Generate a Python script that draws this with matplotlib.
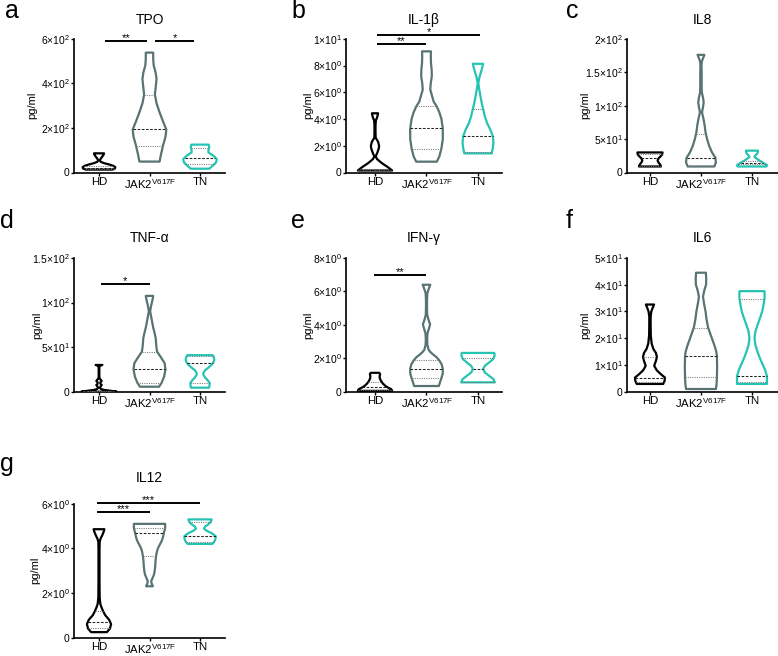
"""
Sitokin duzeyleri: HD / JAK2 V617F / TN gruplari icin violin grafikleri (a-g).
Cikti: out.png
"""

import numpy as np
import matplotlib
matplotlib.use("Agg")
import matplotlib.pyplot as plt

plt.rcParams["font.family"] = ["Liberation Sans", "DejaVu Sans"]
plt.rcParams["mathtext.fontset"] = "custom"
plt.rcParams["mathtext.rm"] = "Liberation Sans"
plt.rcParams["mathtext.it"] = "Liberation Sans:italic"
plt.rcParams["mathtext.bf"] = "Liberation Sans:bold"

GROUPS = ["HD", r"JAK2$^{\mathregular{V617F}}$", "TN"]
COLORS = ["#000000", "#587373", "#25c4b2"]

# --- violin profilleri: y degerleri, goreli genislik, ceyrekler (Q1, medyan, Q3) ---
# a) TPO
TPO_HD_Y = [13, 18, 24, 30, 36, 42, 48, 54, 62, 70, 78, 86]
TPO_HD_W = [0.8, 0.95, 0.97, 0.85, 0.6, 0.3, 0.1, 0.05, 0.1, 0.18, 0.26, 0.3]
TPO_HD_Q = [15, 20, 27]
TPO_JAK_Y = [49, 80, 120, 160, 193, 230, 270, 310, 350, 390, 420, 450, 480, 510, 538]
TPO_JAK_W = [0.6, 0.68, 0.8, 0.95, 1.0, 0.8, 0.6, 0.42, 0.32, 0.38, 0.42, 0.36, 0.25, 0.22, 0.22]
TPO_JAK_Q = [117, 193, 350]
TPO_TN_Y = [17, 30, 45, 60, 75, 90, 100, 112, 125]
TPO_TN_W = [0.55, 0.75, 0.95, 1.0, 0.8, 0.5, 0.5, 0.55, 0.52]
TPO_TN_Q = [40, 67, 112]

# b) IL-1b
IL1B_HD_Y = [0.15, 0.4, 0.7, 1.0, 1.2, 1.5, 1.8, 2.0, 2.3, 2.6, 3.0, 3.5, 3.9, 4.1, 4.43]
IL1B_HD_W = [1.0, 0.75, 0.4, 0.12, 0.04, 0.14, 0.22, 0.24, 0.18, 0.04, 0.03, 0.03, 0.05, 0.12, 0.18]
IL1B_HD_Q = [0.16, 0.2, 0.25]
IL1B_JAK_Y = [0.81, 1.2, 1.8, 2.5, 3.3, 4.0, 4.5, 4.93, 5.3, 5.7, 6.2, 6.7, 7.2, 7.7, 8.2, 8.7, 9.06]
IL1B_JAK_W = [0.6, 0.75, 0.87, 0.95, 0.95, 0.87, 0.75, 0.6, 0.42, 0.33, 0.22, 0.25, 0.31, 0.3, 0.26, 0.25, 0.26]
IL1B_JAK_Q = [1.75, 3.3, 4.95]
IL1B_TN_Y = [1.43, 1.8, 2.2, 2.7, 3.2, 3.7, 4.2, 4.75, 5.3, 5.8, 6.3, 6.7, 7.1, 7.5, 7.8, 8.13]
IL1B_TN_W = [0.8, 0.86, 0.9, 0.87, 0.72, 0.53, 0.4, 0.3, 0.2, 0.13, 0.06, 0.02, 0.08, 0.17, 0.24, 0.3]
IL1B_TN_Q = [1.53, 2.76, 4.75]

# c) IL8
IL8_HD_Y = [9, 12, 15, 18, 21, 24, 27, 30]
IL8_HD_W = [0.65, 0.6, 0.5, 0.45, 0.5, 0.62, 0.72, 0.74]
IL8_HD_Q = [10, 22, 27]
IL8_JAK_Y = [9, 15, 22, 30, 40, 50, 60, 70, 80, 90, 98, 105, 112, 120, 130, 140, 150, 160, 166, 171, 176]
IL8_JAK_W = [0.78, 0.88, 0.85, 0.65, 0.48, 0.36, 0.27, 0.22, 0.15, 0.06, 0.12, 0.16, 0.12, 0.05,
             0.04, 0.04, 0.04, 0.03, 0.05, 0.12, 0.2]
IL8_JAK_Q = [10, 22, 57]
IL8_TN_Y = [9, 11, 14, 17, 20, 23, 25, 28, 31, 32.7]
IL8_TN_W = [0.85, 0.88, 0.7, 0.5, 0.32, 0.15, 0.18, 0.3, 0.35, 0.35]
IL8_TN_Q = [12, 14.9, 17]

# d) TNF-a
TNF_HD_Y = [0, 1, 2, 3, 4.5, 6, 7.5, 9, 10.5, 12, 13.5, 15, 18, 22, 26, 29, 30]
TNF_HD_W = [1.05, 0.7, 0.3, 0.12, 0.05, 0.1, 0.16, 0.08, 0.08, 0.16, 0.1, 0.03, 0.02, 0.02, 0.02, 0.03, 0.2]
TNF_HD_Q = [0.3, 0.6, 1.0]
TNF_JAK_Y = [5.6, 10, 17, 25, 32, 38, 45, 52, 60, 66, 72, 78, 84, 90, 95, 100, 104, 107.5]
TNF_JAK_W = [0.57, 0.72, 0.87, 0.95, 0.9, 0.7, 0.45, 0.4, 0.37, 0.3, 0.22, 0.16, 0.1, 0.04, 0.08, 0.14, 0.19, 0.22]
TNF_JAK_Q = [10, 25, 44.8]
TNF_TN_Y = [4.5, 7, 10, 13, 16, 19, 21, 24, 27, 30, 33, 36, 39, 41]
TNF_TN_W = [0.53, 0.57, 0.57, 0.45, 0.3, 0.2, 0.2, 0.3, 0.5, 0.68, 0.8, 0.85, 0.82, 0.75]
TNF_TN_Q = [9.5, 32.5, 40]

# e) IFN-g
IFN_HD_Y = [0.05, 0.15, 0.25, 0.35, 0.5, 0.65, 0.8, 0.95, 1.05, 1.13]
IFN_HD_W = [1.0, 0.95, 0.75, 0.6, 0.45, 0.35, 0.28, 0.27, 0.3, 0.25]
IFN_HD_Q = [0.1, 0.26, 0.6]
IFN_JAK_Y = [0.34, 0.6, 0.81, 1.1, 1.37, 1.65, 1.88, 2.05, 2.2, 2.35, 2.5, 2.8, 3.2, 3.5, 3.8, 4.03,
             4.3, 4.6, 5.0, 5.5, 5.9, 6.15, 6.4]
IFN_JAK_W = [0.72, 0.8, 0.87, 0.95, 0.95, 0.88, 0.74, 0.6, 0.42, 0.25, 0.13, 0.05, 0.04, 0.06, 0.15, 0.21,
             0.12, 0.04, 0.03, 0.03, 0.05, 0.13, 0.22]
IFN_JAK_Q = [0.81, 1.37, 1.88]
IFN_TN_Y = [0.56, 0.75, 0.95, 1.15, 1.35, 1.55, 1.75, 1.95, 2.15, 2.32]
IFN_TN_W = [0.98, 0.9, 0.65, 0.4, 0.3, 0.4, 0.65, 0.88, 0.97, 0.95]
IFN_TN_Q = [0.6, 1.35, 2.04]

# f) IL6
IL6_HD_Y = [2.9, 4, 5.3, 6.5, 8, 9.7, 11.5, 13, 14.5, 16, 18, 21, 25, 28, 30, 31.5, 32.6]
IL6_HD_W = [0.78, 0.86, 0.88, 0.65, 0.4, 0.25, 0.35, 0.41, 0.35, 0.2, 0.1, 0.05, 0.04, 0.04, 0.08, 0.17, 0.24]
IL6_HD_Q = [3.7, 5.3, 13]
IL6_JAK_Y = [1, 3, 5.5, 9, 13.3, 15, 17, 20, 24, 27, 30, 33, 35.5, 38, 40, 42, 44.5]
IL6_JAK_W = [0.88, 0.92, 0.94, 0.95, 0.94, 0.9, 0.81, 0.64, 0.42, 0.33, 0.27, 0.18, 0.12, 0.2, 0.3, 0.31, 0.29]
IL6_JAK_Q = [5.5, 13.3, 24]
IL6_TN_Y = [2.9, 4, 5.8, 8, 10, 12.5, 15, 17.5, 20, 22.5, 25, 27.5, 30, 32.5, 35, 37.6]
IL6_TN_W = [0.88, 0.88, 0.88, 0.78, 0.64, 0.47, 0.32, 0.2, 0.15, 0.2, 0.33, 0.47, 0.6, 0.68, 0.74, 0.74]
IL6_TN_Q = [3.8, 5.8, 34.8]

# g) IL12
IL12_HD_Y = [0.24, 0.4, 0.6, 0.8, 1.0, 1.17, 1.35, 1.5, 1.8, 2.5, 3.2, 3.9, 4.3, 4.45, 4.6, 4.75, 4.86]
IL12_HD_W = [0.47, 0.65, 0.72, 0.6, 0.37, 0.25, 0.15, 0.08, 0.04, 0.03, 0.03, 0.03, 0.04, 0.1, 0.2, 0.28, 0.32]
IL12_HD_Q = [0.42, 0.68, 1.17]
IL12_JAK_Y = [2.3, 2.42, 2.53, 2.65, 2.83, 3.0, 3.2, 3.45, 3.65, 3.85, 4.0, 4.15, 4.34, 4.5, 4.68,
              4.82, 4.93, 5.1]
IL12_JAK_W = [0.2, 0.13, 0.1, 0.17, 0.27, 0.31, 0.34, 0.36, 0.39, 0.44, 0.5, 0.6, 0.73, 0.8, 0.85,
              0.9, 0.93, 0.93]
IL12_JAK_Q = [3.65, 4.68, 4.93]
IL12_TN_Y = [4.2, 4.3, 4.42, 4.55, 4.68, 4.78, 4.88, 4.98, 5.08, 5.2, 5.3]
IL12_TN_W = [0.74, 0.85, 0.92, 0.93, 0.7, 0.42, 0.24, 0.3, 0.5, 0.65, 0.69]
IL12_TN_Q = [4.3, 4.55, 5.2]

# eksen tikleri
TPO_TICKS = [0, 200, 400, 600]
TPO_LABELS = ["0", "2×10$^{2}$", "4×10$^{2}$", "6×10$^{2}$"]
IL1B_TICKS = [0, 2, 4, 6, 8, 10]
IL1B_LABELS = ["0", "2×10$^{0}$", "4×10$^{0}$", "6×10$^{0}$", "8×10$^{0}$", "1×10$^{1}$"]
IL8_TICKS = [0, 50, 100, 150, 200]
IL8_LABELS = ["0", "5×10$^{1}$", "1×10$^{2}$", "1.5×10$^{2}$", "2×10$^{2}$"]
TNF_TICKS = [0, 50, 100, 150]
TNF_LABELS = ["0", "5×10$^{1}$", "1×10$^{2}$", "1.5×10$^{2}$"]
IFN_TICKS = [0, 2, 4, 6, 8]
IFN_LABELS = ["0", "2×10$^{0}$", "4×10$^{0}$", "6×10$^{0}$", "8×10$^{0}$"]
IL6_TICKS = [0, 10, 20, 30, 40, 50]
IL6_LABELS = ["0", "1×10$^{1}$", "2×10$^{1}$", "3×10$^{1}$", "4×10$^{1}$", "5×10$^{1}$"]
IL12_TICKS = [0, 2, 4, 6]
IL12_LABELS = ["0", "2×10$^{0}$", "4×10$^{0}$", "6×10$^{0}$"]

# anlamlilik cizgileri: (x1, x2, y, yildiz)
TPO_SIG = [(1.12, 1.95, 588, "**"), (2.11, 2.89, 588, "*")]
IL1B_SIG = [(1.04, 1.99, 9.6, "**"), (1.04, 3.04, 10.25, "*")]
TNF_SIG = [(1.04, 2.0, 121, "*")]
IFN_SIG = [(0.98, 1.99, 7.0, "**")]
IL12_SIG = [(0.955, 2.01, 5.63, "***"), (0.955, 3.0, 6.02, "***")]

W, H = 778, 656
HALF = 0.333  # en genis violinin yari genisligi (x birimi)
COL_LEFT = [74, 346, 627]
COL_WIDTH = [151, 156, 151]
COL_XLIM = [(0.505, 3.495), (0.437, 3.466), (0.55, 3.51)]
ROW_Y0 = [172.5, 391.7, 637.5]
AX_H = 133.7

panels = [
    dict(letter="a", lpos=(5, 18), title="TPO", row=0, col=0, ticks=TPO_TICKS, labels=TPO_LABELS,
         v=[(TPO_HD_Y, TPO_HD_W, TPO_HD_Q), (TPO_JAK_Y, TPO_JAK_W, TPO_JAK_Q), (TPO_TN_Y, TPO_TN_W, TPO_TN_Q)],
         sig=TPO_SIG, tpad=11, ylab=32),
    dict(letter="b", lpos=(291, 18), title="IL-1β", row=0, col=1, ticks=IL1B_TICKS, labels=IL1B_LABELS,
         v=[(IL1B_HD_Y, IL1B_HD_W, IL1B_HD_Q), (IL1B_JAK_Y, IL1B_JAK_W, IL1B_JAK_Q),
            (IL1B_TN_Y, IL1B_TN_W, IL1B_TN_Q)],
         sig=IL1B_SIG, tpad=11, ylab=308),
    dict(letter="c", lpos=(566, 18), title="IL8", row=0, col=2, ticks=IL8_TICKS, labels=IL8_LABELS,
         v=[(IL8_HD_Y, IL8_HD_W, IL8_HD_Q), (IL8_JAK_Y, IL8_JAK_W, IL8_JAK_Q), (IL8_TN_Y, IL8_TN_W, IL8_TN_Q)],
         sig=[], tpad=11, ylab=585),
    dict(letter="d", lpos=(0, 228), title="TNF-α", row=1, col=0, ticks=TNF_TICKS, labels=TNF_LABELS,
         v=[(TNF_HD_Y, TNF_HD_W, TNF_HD_Q), (TNF_JAK_Y, TNF_JAK_W, TNF_JAK_Q), (TNF_TN_Y, TNF_TN_W, TNF_TN_Q)],
         sig=TNF_SIG, tpad=11.5, ylab=37),
    dict(letter="e", lpos=(291, 228), title="IFN-γ", row=1, col=1, ticks=IFN_TICKS, labels=IFN_LABELS,
         v=[(IFN_HD_Y, IFN_HD_W, IFN_HD_Q), (IFN_JAK_Y, IFN_JAK_W, IFN_JAK_Q), (IFN_TN_Y, IFN_TN_W, IFN_TN_Q)],
         sig=IFN_SIG, tpad=11.5, ylab=308),
    dict(letter="f", lpos=(566, 228), title="IL6", row=1, col=2, ticks=IL6_TICKS, labels=IL6_LABELS,
         v=[(IL6_HD_Y, IL6_HD_W, IL6_HD_Q), (IL6_JAK_Y, IL6_JAK_W, IL6_JAK_Q), (IL6_TN_Y, IL6_TN_W, IL6_TN_Q)],
         sig=[], tpad=11.5, ylab=585),
    dict(letter="g", lpos=(0, 471), title="IL12", row=2, col=0, ticks=IL12_TICKS, labels=IL12_LABELS,
         v=[(IL12_HD_Y, IL12_HD_W, IL12_HD_Q), (IL12_JAK_Y, IL12_JAK_W, IL12_JAK_Q),
            (IL12_TN_Y, IL12_TN_W, IL12_TN_Q)],
         sig=IL12_SIG, tpad=16, ylab=35),
]


def violin(ax, x, ys, ws, qs, color):
    ys = np.asarray(ys, float)
    ws = np.asarray(ws, float) * HALF
    px = np.concatenate([x + ws, (x - ws)[::-1]])
    py = np.concatenate([ys, ys[::-1]])
    ax.fill(px, py, facecolor="white", edgecolor=color, lw=1.6, joinstyle="round", zorder=3)
    for i, q in enumerate(qs):
        hw = np.interp(q, ys, ws)
        if i == 1:
            ax.plot([x - hw, x + hw], [q, q], color="#222222", lw=0.75, ls=(0, (2.5, 1.5)), zorder=4)
        else:
            ax.plot([x - hw, x + hw], [q, q], color="#777777", lw=0.75, ls=(0, (1, 1.2)), zorder=4)


fig = plt.figure(figsize=(W / 100, H / 100), dpi=100)

for p in panels:
    left = COL_LEFT[p["col"]]
    width = COL_WIDTH[p["col"]]
    y0 = ROW_Y0[p["row"]]
    ax = fig.add_axes([left / W, (H - y0) / H, width / W, AX_H / H])
    for i, (ys, ws, qs) in enumerate(p["v"]):
        violin(ax, i + 1, ys, ws, qs, COLORS[i])
    for x1, x2, yv, star in p["sig"]:
        ax.plot([x1, x2], [yv, yv], color="black", lw=1.4, clip_on=False, solid_capstyle="butt")
        ax.text((x1 + x2) / 2, yv, star, ha="center", va="baseline", fontsize=8, clip_on=False)

    ax.set_xlim(*COL_XLIM[p["col"]])
    ax.set_ylim(0, p["ticks"][-1])
    ax.set_yticks(p["ticks"])
    ax.set_yticklabels(p["labels"])
    ax.set_xticks([1, 2, 3])
    ax.set_xticklabels(GROUPS, fontsize=8.2)
    ax.tick_params(axis="y", labelsize=7.5, length=2.2, width=1, pad=0.8)
    ax.tick_params(axis="x", length=2.5, width=1, pad=0.6)
    for s in ("top", "right"):
        ax.spines[s].set_visible(False)
    for s in ("left", "bottom"):
        ax.spines[s].set_linewidth(1.2)
    ax.set_title(p["title"], fontsize=10, pad=p["tpad"])
    ax.set_ylabel("pg/ml", fontsize=8)
    ax.yaxis.set_label_coords((p["ylab"] + 5 - left) / width, 0.5)
    fig.text(p["lpos"][0] / W, 1 - p["lpos"][1] / H, p["letter"], fontsize=18, va="baseline")

fig.savefig("out.png", dpi=100)
